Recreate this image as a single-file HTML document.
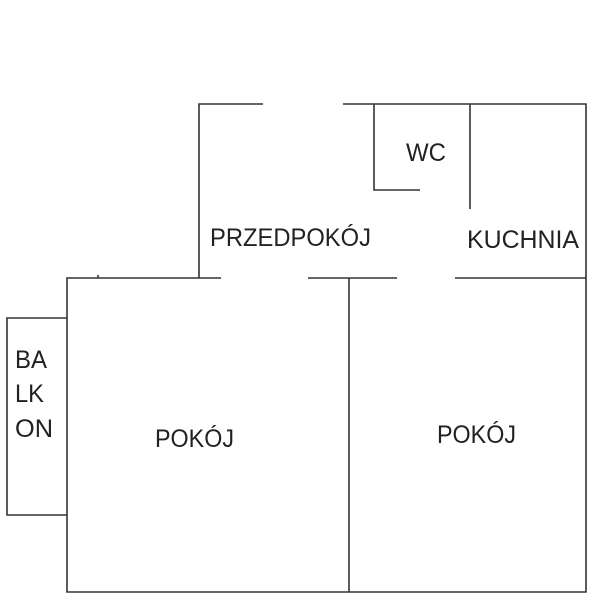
<!DOCTYPE html>
<html><head><meta charset="utf-8"><style>html,body{margin:0;padding:0;background:#fff}svg{display:block}</style></head>
<body>
<svg width="601" height="600" viewBox="0 0 601 600" xmlns="http://www.w3.org/2000/svg">
<g stroke="#333" stroke-width="1.6" fill="none">
<polyline points="263,104 199,104 199,278"/>
<polyline points="343,104 586,104 586,592 67,592 67,278 221,278"/>
<line x1="98" y1="275" x2="98" y2="278"/>
<polyline points="374,104 374,190 420,190"/>
<line x1="470" y1="104" x2="470" y2="209"/>
<line x1="308" y1="278" x2="397" y2="278"/>
<line x1="455" y1="278" x2="586" y2="278"/>
<line x1="349" y1="278" x2="349" y2="592"/>
<polyline points="67,318 7,318 7,515 67,515"/>
</g>
<g font-family="Liberation Sans, sans-serif" font-size="25" fill="#222">
<text x="210" y="246" textLength="161" lengthAdjust="spacingAndGlyphs">PRZEDPOKÓJ</text>
<text x="406" y="161" textLength="40" lengthAdjust="spacingAndGlyphs">WC</text>
<text x="467" y="248" textLength="112" lengthAdjust="spacingAndGlyphs">KUCHNIA</text>
<text x="155" y="447" textLength="79" lengthAdjust="spacingAndGlyphs">POKÓJ</text>
<text x="437" y="443" textLength="79" lengthAdjust="spacingAndGlyphs">POKÓJ</text>
<text x="15" y="368" textLength="32" lengthAdjust="spacingAndGlyphs">BA</text>
<text x="15" y="402" textLength="29" lengthAdjust="spacingAndGlyphs">LK</text>
<text x="15" y="437" textLength="38" lengthAdjust="spacingAndGlyphs">ON</text>
</g>
</svg>
</body></html>
